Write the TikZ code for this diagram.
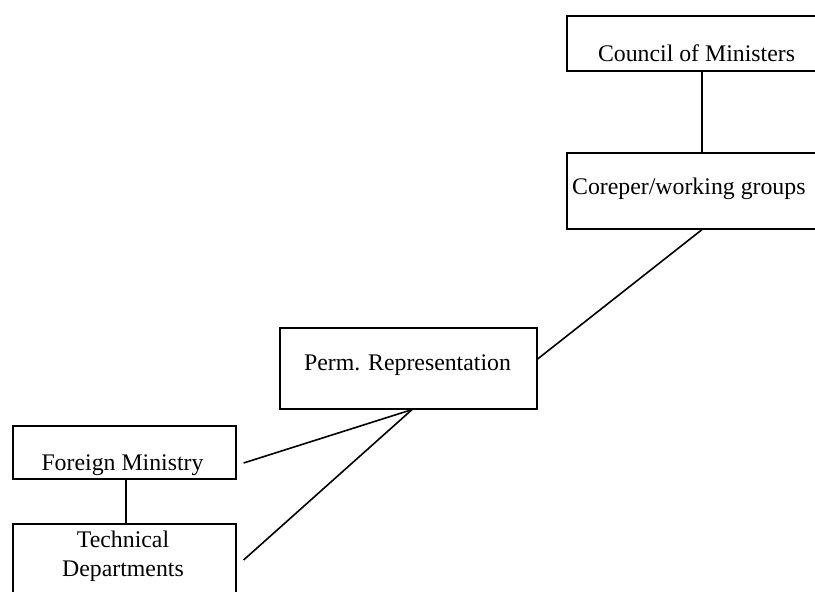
\documentclass[tikz,border=0pt]{standalone}
\usepackage{fontspec}
\setmainfont{Liberation Serif}
\usetikzlibrary{calc}
\begin{document}
\begin{tikzpicture}[x=1pt,y=-1pt,
  box/.style={draw, line width=1.6pt, inner sep=0pt, anchor=north west},
  lbl/.style={font=\fontsize{23.8}{29}\selectfont, inner sep=0pt, align=center},
  conn/.style={line width=1.6pt}]
\clip (0,0) rectangle (815,592);
\node[box, minimum width=270pt, minimum height=55pt] (council) at (566,15) {};
\node[box, minimum width=270pt, minimum height=76pt] (coreper) at (566,152) {};
\node[box, minimum width=257pt, minimum height=81pt] (perm) at (279,327) {};
\node[box, minimum width=223pt, minimum height=53pt] (foreign) at (12,425) {};
\node[box, minimum width=223pt, minimum height=100pt] (tech) at (12,523) {};

\node[lbl, anchor=base] (councilT) at (696.5,61) {Council of Ministers};
\node[lbl, anchor=base west] (coreperT) at (572,194) {Coreper/working groups};
\node[lbl, anchor=base] (permT) at (407.5,370) {Perm. Representation};
\node[lbl, anchor=base] (foreignT) at (122.5,470) {Foreign Ministry};
\node[lbl, anchor=center] (techT) at (123,556) {Technical\\Departments};

\draw[conn] ($(council.south west)+(136,0)$) -- ($(coreper.north west)+(136,0)$);
\draw[conn] ($(coreper.south west)+(136,0)$) -- ($(perm.north east)+(0,32)$);
\draw[conn] ($(perm.south west)+(133,0)$) -- ($(foreign.north east)+(7,38)$);
\draw[conn] ($(perm.south west)+(133,0)$) -- ($(tech.north east)+(7,37)$);
\draw[conn] ($(foreign.south west)+(114,0)$) -- ($(tech.north west)+(114,0)$);
\end{tikzpicture}
\end{document}
